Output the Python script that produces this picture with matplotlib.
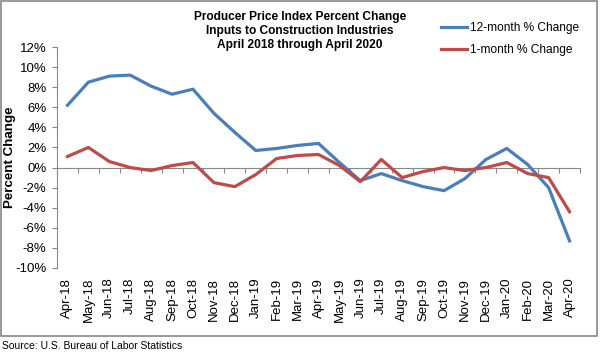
import matplotlib.pyplot as plt
from matplotlib.patches import Rectangle
import numpy as np

plt.rcParams['font.family'] = ['Liberation Sans', 'DejaVu Sans']

months = ["Apr-18", "May-18", "Jun-18", "Jul-18", "Aug-18", "Sep-18", "Oct-18",
          "Nov-18", "Dec-18", "Jan-19", "Feb-19", "Mar-19", "Apr-19", "May-19",
          "Jun-19", "Jul-19", "Aug-19", "Sep-19", "Oct-19", "Nov-19", "Dec-19",
          "Jan-20", "Feb-20", "Mar-20", "Apr-20"]
chg_12m = [6.2, 8.5, 9.1, 9.2, 8.1, 7.3, 7.8, 5.4, 3.5, 1.7, 1.9, 2.2, 2.4,
           0.5, -1.3, -0.6, -1.3, -1.9, -2.3, -1.1, 0.8, 1.9, 0.3, -2.0, -7.3]
chg_1m = [1.1, 2.0, 0.6, 0.0, -0.3, 0.2, 0.5, -1.5, -1.9, -0.7, 0.9, 1.2, 1.3,
          0.2, -1.4, 0.8, -1.0, -0.4, 0.0, -0.3, 0.0, 0.5, -0.6, -1.0, -4.4]
yticks = list(range(-10, 13, 2))

fig = plt.figure(figsize=(6.0, 3.55), dpi=100)
# chart border
fig.patches.append(Rectangle((0.002, 1 - 336 / 355), 0.993, 336 / 355 - 0.003,
                             transform=fig.transFigure, fill=False,
                             edgecolor="#888888", linewidth=1.2))

ax = fig.add_axes([57 / 600, 1 - 268 / 355, (580 - 57) / 600, (268 - 47) / 355])
x = np.arange(len(months))
ax.plot(x, chg_12m, color="#4a7ebb", linewidth=2.3, label="12-month % Change")
ax.plot(x, chg_1m, color="#be4b48", linewidth=2.3, label="1-month % Change")

ax.set_xlim(-0.5, len(months) - 0.5)
ax.set_ylim(-10, 12)
ax.set_yticks(yticks)
ax.set_yticklabels(["%d%%" % v for v in yticks], fontsize=9.5)
ax.tick_params(axis="y", length=3.5, color="#888888", pad=4)

ax.set_xticks(x)
ax.set_xticklabels(months, rotation=90, fontsize=9.5)
ax.tick_params(axis="x", length=0, pad=7)

for s in ["top", "right", "bottom"]:
    ax.spines[s].set_visible(False)
ax.spines["left"].set_color("#888888")

# zero axis line with category boundary ticks
zero = ax.secondary_xaxis(10 / 22)
zero.set_xticks(np.arange(len(months) + 1) - 0.5)
zero.set_xticklabels([])
zero.tick_params(length=3.5, color="#888888")
zero.spines["bottom"].set_color("#888888")

ax.set_ylabel("Percent Change", fontsize=9.6, fontweight="bold")
ax.yaxis.set_label_coords(-0.078, 0.5)

fig.text(300 / 600, 1 - 31 / 355,
         "Producer Price Index Percent Change\nInputs to Construction Industries\nApril 2018 through April 2020",
         ha="center", va="center", fontsize=8.6, fontweight="bold", linespacing=1.22)

ax.legend(loc="upper left", bbox_to_anchor=(441 / 600, 1 - 22 / 355),
          bbox_transform=fig.transFigure, frameon=False, fontsize=8.6,
          handlelength=2.2, handletextpad=0.25, labelspacing=0.85,
          borderpad=0, borderaxespad=0)

fig.text(2 / 600, 1 - 346 / 355, "Source: U.S. Bureau of Labor Statistics",
         ha="left", va="center", fontsize=7.5)

fig.savefig("out.png", dpi=100)
